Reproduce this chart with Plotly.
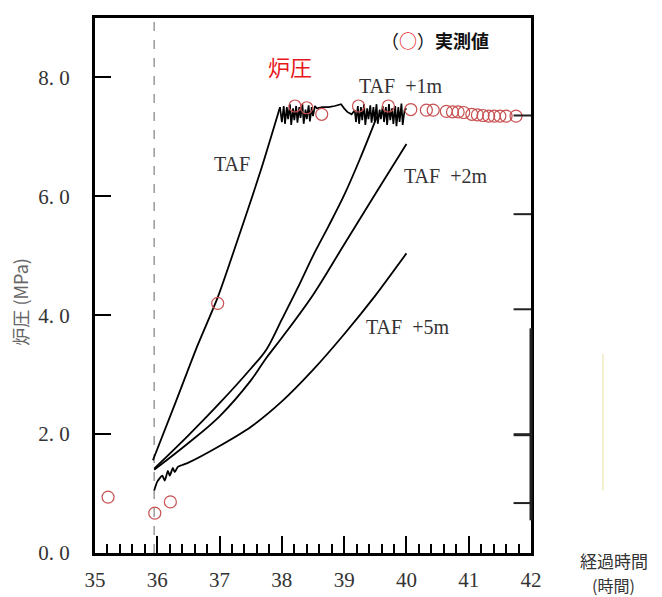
import plotly.graph_objects as go

# ---- data ----
taf_rise_t = [35.93, 36.30, 36.65, 36.97, 37.30, 37.65, 37.97]
taf_rise_p = [1.56, 2.55, 3.50, 4.30, 5.30, 6.40, 7.50]

plateau_t = [37.97, 38.00, 38.03, 38.05, 38.08, 38.10, 38.13, 38.15, 38.18, 38.20, 38.23,
             38.25, 38.28, 38.30, 38.33, 38.35, 38.38, 38.40, 38.43, 38.45, 38.48,
             38.50, 38.53, 38.56,
             38.65, 38.75, 38.85, 38.95, 39.00, 39.05, 39.12,
             39.17, 39.19, 39.22, 39.24, 39.27, 39.29, 39.32, 39.34, 39.37, 39.39,
             39.42, 39.44, 39.47, 39.49, 39.52, 39.54, 39.57, 39.59, 39.62, 39.64,
             39.67, 39.69, 39.72, 39.74, 39.77, 39.79, 39.82, 39.84, 39.87, 39.89,
             39.92, 39.94, 39.97, 40.00]
plateau_p = [7.50, 7.25, 7.52, 7.22, 7.50, 7.30, 7.55, 7.20, 7.48, 7.28, 7.52,
             7.24, 7.50, 7.32, 7.55, 7.22, 7.46, 7.30, 7.53, 7.26, 7.50,
             7.35, 7.52, 7.48,
             7.50, 7.50, 7.52, 7.55, 7.48, 7.42, 7.38,
             7.45, 7.25, 7.52, 7.22, 7.50, 7.28, 7.55, 7.20, 7.48, 7.30,
             7.53, 7.24, 7.50, 7.26, 7.55, 7.22, 7.46, 7.30, 7.52, 7.25,
             7.50, 7.20, 7.55, 7.28, 7.48, 7.22, 7.52, 7.18, 7.50, 7.25,
             7.56, 7.20, 7.45, 7.48]

taf1_t = [35.95, 36.50, 37.00, 37.50, 37.75, 38.00, 38.25, 38.50, 38.75, 39.00, 39.25, 39.53]
taf1_p = [1.42, 1.98, 2.52, 3.10, 3.42, 3.93, 4.45, 5.00, 5.50, 6.02, 6.62, 7.35]

taf2_t = [35.95, 36.50, 37.00, 37.50, 37.75, 38.00, 38.50, 39.00, 39.50, 40.00]
taf2_p = [1.40, 1.85, 2.30, 2.90, 3.28, 3.62, 4.34, 5.19, 6.04, 6.88]

taf5_t = [35.95, 36.00, 36.08, 36.12, 36.17, 36.20, 36.25, 36.28, 36.33, 36.40,
          36.50, 37.00, 37.50, 38.00, 38.50, 39.00, 39.50, 40.00]
taf5_p = [1.05, 1.20, 1.30, 1.22, 1.38, 1.30, 1.43, 1.36, 1.45, 1.48,
          1.52, 1.80, 2.12, 2.55, 3.08, 3.68, 4.33, 5.04]

meas_t = [35.21, 35.96, 36.21, 36.97, 38.21, 38.40, 38.64, 39.23, 39.71,
          40.07, 40.32, 40.43, 40.64, 40.74, 40.83, 40.92, 41.05, 41.14,
          41.23, 41.32, 41.41, 41.50, 41.60, 41.76]
meas_p = [0.94, 0.67, 0.86, 4.20, 7.52, 7.49, 7.38, 7.52, 7.52,
          7.46, 7.45, 7.45, 7.43, 7.42, 7.42, 7.41, 7.38, 7.37,
          7.36, 7.35, 7.35, 7.35, 7.35, 7.35]

event_t = 35.95
x_ticks = [35, 36, 37, 38, 39, 40, 41, 42]
y_ticks = [0, 2, 4, 6, 8]
y_ticktext = ["0. 0", "2. 0", "4. 0", "6. 0", "8. 0"]
right_marks = [7.36, 5.70, 4.10, 1.99, 0.84]

SERIF = "Liberation Serif, Times New Roman, serif"
CJK = "Noto Sans CJK JP"

fig = go.Figure()
fig.add_trace(go.Scatter(x=taf_rise_t, y=taf_rise_p, mode="lines",
                         line=dict(color="black", width=1.8, shape="spline", smoothing=0.8),
                         hoverinfo="skip"))
fig.add_trace(go.Scatter(x=plateau_t, y=plateau_p, mode="lines",
                         line=dict(color="black", width=1.7), hoverinfo="skip"))
fig.add_trace(go.Scatter(x=taf1_t, y=taf1_p, mode="lines",
                         line=dict(color="black", width=1.8, shape="spline", smoothing=1.0),
                         hoverinfo="skip"))
fig.add_trace(go.Scatter(x=taf2_t, y=taf2_p, mode="lines",
                         line=dict(color="black", width=1.8, shape="spline", smoothing=1.0),
                         hoverinfo="skip"))
fig.add_trace(go.Scatter(x=taf5_t, y=taf5_p, mode="lines",
                         line=dict(color="black", width=1.8, shape="spline", smoothing=0.6),
                         hoverinfo="skip"))

fig.add_trace(go.Scatter(x=meas_t, y=meas_p, mode="markers",
                         marker=dict(symbol="circle-open", size=12,
                                     color="#c85050", line=dict(width=1.2, color="#c85050"))))

# dashed event line
fig.add_shape(type="line", x0=event_t, x1=event_t, y0=0, y1=9, xref="x", yref="y",
              line=dict(color="#999999", width=1.5, dash="dash"), layer="below")

# right-side tick marks
for v in right_marks:
    w = 3 if abs(v - 1.99) < 0.01 else 2
    fig.add_shape(type="line", xref="paper", yref="y", x0=0.96, x1=1.0, y0=v, y1=v,
                  line=dict(color="#222", width=w))
fig.add_shape(type="line", xref="paper", yref="y", x0=1.0, x1=1.0, y0=0.55, y1=3.78,
              line=dict(color="#222", width=3))
fig.add_shape(type="line", xref="paper", yref="paper", x0=1.165, x1=1.165, y0=0.117, y1=0.372,
              line=dict(color="#e8e0a0", width=1))

anns = [
    dict(text="TAF", x=37.20, y=6.54),
    dict(text="TAF\u00a0\u00a0+1m", x=39.90, y=7.86),
    dict(text="TAF\u00a0\u00a0+2m", x=40.63, y=6.35),
    dict(text="TAF\u00a0\u00a0+5m", x=40.02, y=3.81),
]
for a in anns:
    fig.add_annotation(text=a["text"], x=a["x"], y=a["y"], xref="x", yref="y",
                       showarrow=False, font=dict(family=SERIF, size=20, color="#333"))

fig.add_annotation(text="炉圧", x=38.13, y=8.2, xref="x", yref="y", showarrow=False,
                   font=dict(family=CJK, size=22, color="#e8161b"))
fig.add_annotation(text="（<span style='color:#e8161b'>○</span>）<b>実測値</b>",
                   x=40.46, y=8.63, xref="x", yref="y", showarrow=False,
                   font=dict(family=CJK, size=18, color="#111"))

fig.add_annotation(text="炉圧 (MPa)", x=-0.172, y=0.468, xref="paper", yref="paper",
                   xanchor="center", yanchor="middle",
                   textangle=-90, showarrow=False,
                   font=dict(family=CJK, size=18, color="#666"))
fig.add_annotation(text="経過時間", x=1.19, y=-0.0149, xref="paper", yref="paper",
                   xanchor="center", yanchor="middle",
                   showarrow=False, font=dict(family=CJK, size=17, color="#333"))
fig.add_annotation(text="(時間)", x=1.19, y=-0.0595, xref="paper", yref="paper",
                   xanchor="center", yanchor="middle",
                   showarrow=False, font=dict(family=CJK, size=16, color="#333"))

fig.update_layout(
    width=662, height=597,
    margin=dict(l=87, r=139, t=7, b=52),
    paper_bgcolor="white", plot_bgcolor="white",
    showlegend=False,
    xaxis=dict(range=[35, 42], tickvals=x_ticks, ticks="inside", ticklen=17, tickwidth=2,
               tickcolor="black", showline=True, linewidth=3, linecolor="black",
               mirror=True, showgrid=False, zeroline=False,
               minor=dict(dtick=0.2, ticks="inside", ticklen=9, tickwidth=2, tickcolor="black",
                          showgrid=False),
               tickfont=dict(family=SERIF, size=21, color="#333"), ticklabelstandoff=6),
    yaxis=dict(range=[0, 9], tickvals=y_ticks, ticktext=y_ticktext, ticks="inside",
               ticklen=16, tickwidth=2, tickcolor="black", showline=True, linewidth=3,
               linecolor="black", mirror=True, showgrid=False, zeroline=False,
               tickfont=dict(family=SERIF, size=21, color="#333"), ticklabelstandoff=18),
)

fig.write_html("out.html")
